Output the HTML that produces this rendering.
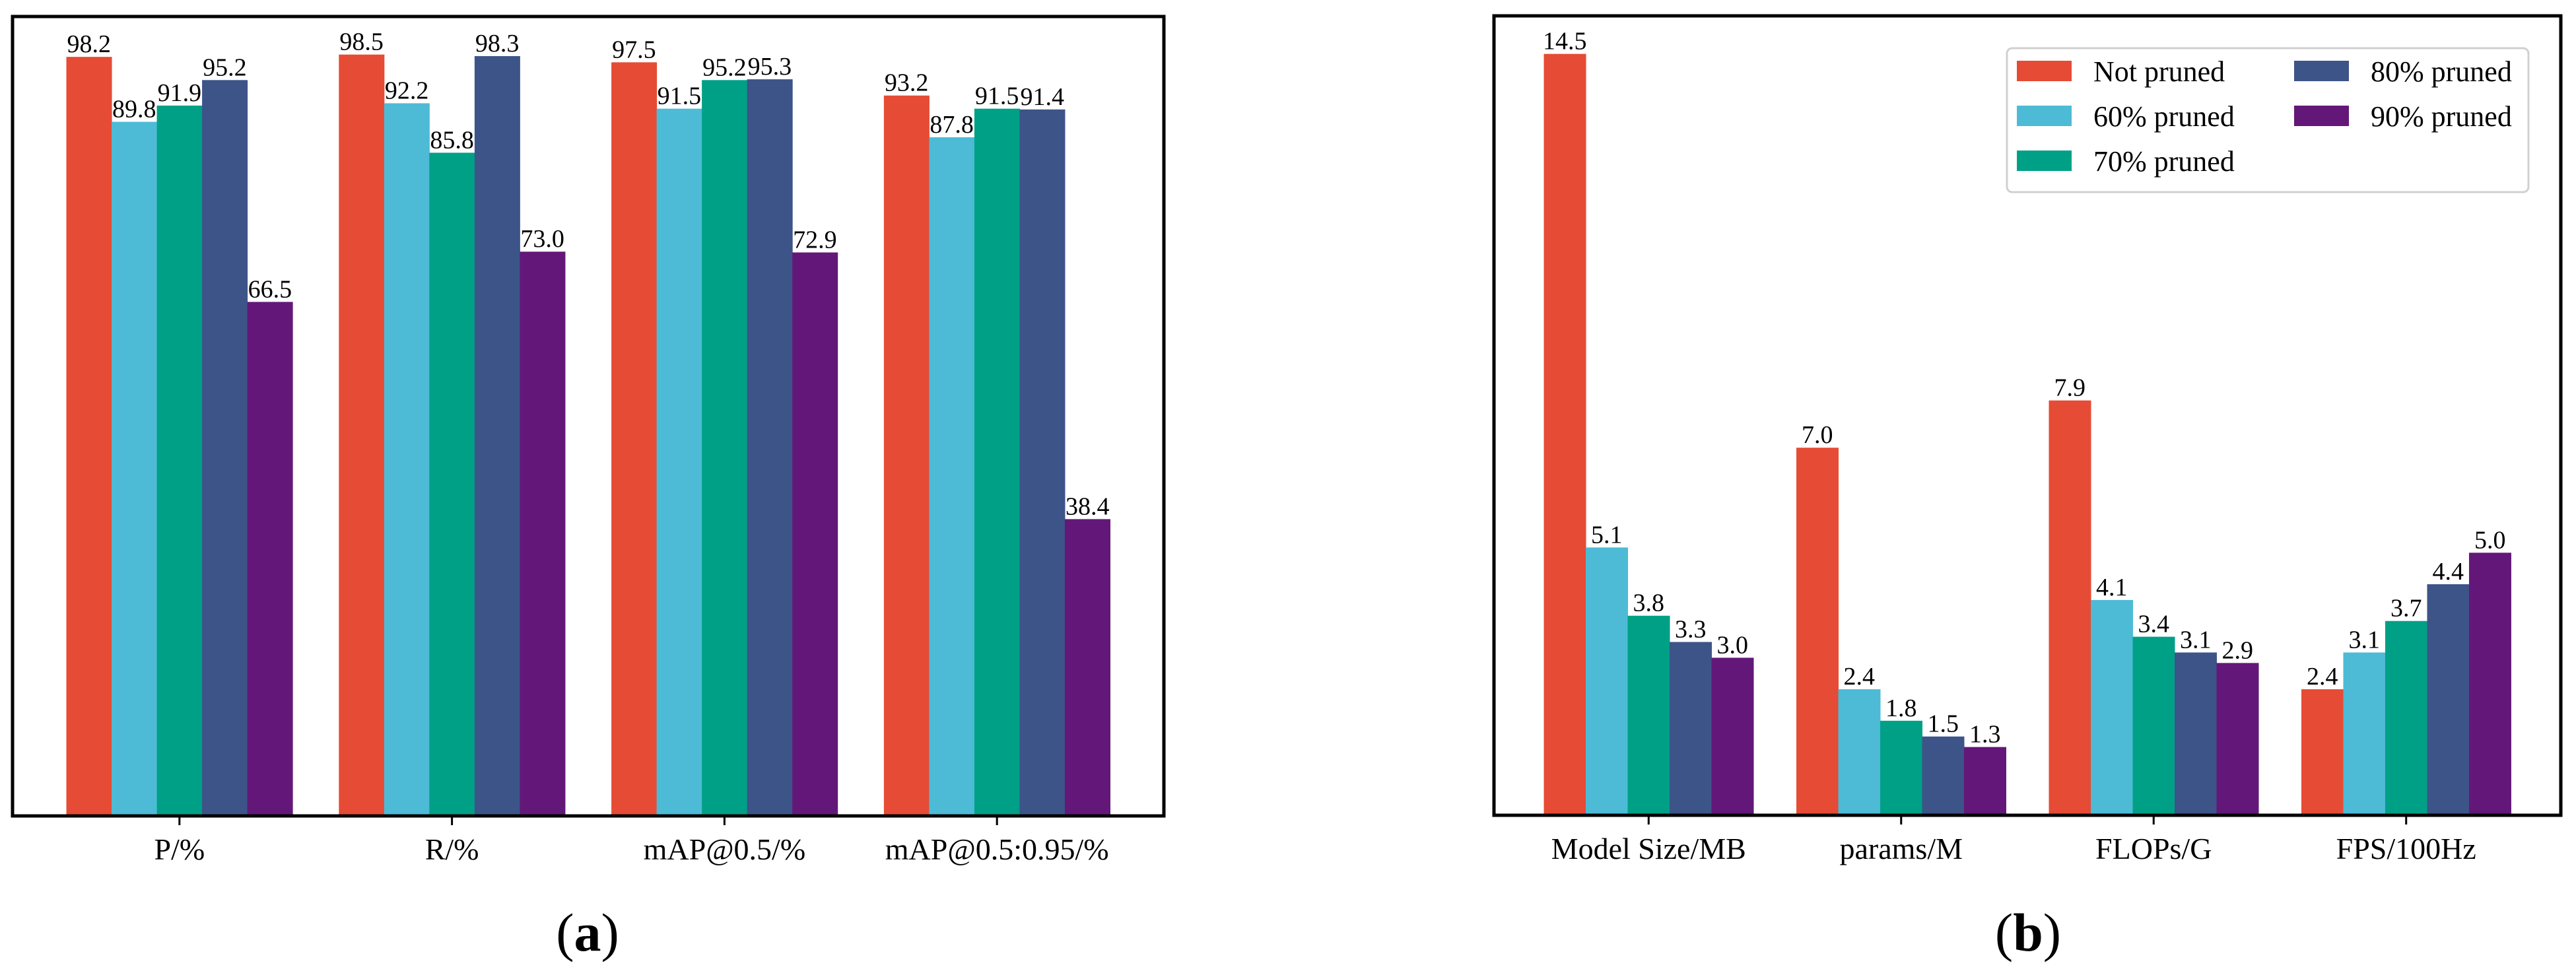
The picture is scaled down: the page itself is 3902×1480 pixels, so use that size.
<!DOCTYPE html>
<html><head><meta charset="utf-8"><style>
html,body{margin:0;padding:0;background:#fff;}
svg{display:block;font-family:"Liberation Serif",serif;}
</style></head><body>
<svg id="chart" width="3902" height="1480" viewBox="0 0 3902 1480" xmlns="http://www.w3.org/2000/svg">
<rect width="3902" height="1480" fill="#fff"/>
</svg>
<script>
const seriesNames = ["Not pruned","60% pruned","70% pruned","80% pruned","90% pruned"];
const seriesColors = ["#E64B35","#4DBBD5","#00A087","#3C5488","#631879"];
const catsA = ["P/%","R/%","mAP@0.5/%","mAP@0.5:0.95/%"];
const notPrunedA = [98.2,98.5,97.5,93.2];
const p60A = [89.8,92.2,91.5,87.8];
const p70A = [91.9,85.8,95.2,91.5];
const p80A = [95.2,98.3,95.3,91.4];
const p90A = [66.5,73.0,72.9,38.4];
const catsB = ["Model Size/MB","params/M","FLOPs/G","FPS/100Hz"];
const notPrunedB = [14.5,7.0,7.9,2.4];
const p60B = [5.1,2.4,4.1,3.1];
const p70B = [3.8,1.8,3.4,3.7];
const p80B = [3.3,1.5,3.1,4.4];
const p90B = [3.0,1.3,2.9,5.0];

const NS="http://www.w3.org/2000/svg";
const svg=document.getElementById('chart');
function mk(tag,attrs,parent){const e=document.createElementNS(NS,tag);for(const k in attrs)e.setAttribute(k,attrs[k]);(parent||svg).appendChild(e);return e;}

function panel(cfg){
  const g=mk('g',{});
  
  
  const L=cfg.left,R=cfg.right,T=cfg.top,B=cfg.bottom;
  const n=cfg.cats.length;
  const step=(R-L)/(n-1+2*0.6125);
  const xC=i=>L+step*0.6125+i*step;
  const all=[].concat(...cfg.series);
  const ymax=Math.max(...all)*1.05;
  const yS=v=>B-(v/ymax)*(B-T);
  const bw=step*0.166;
  cfg.series.forEach((vals,s)=>{
    vals.forEach((v,i)=>{
      const x=xC(i)-2.5*bw+s*bw;
      const r=mk('rect',{x:x,y:yS(v),width:bw+0.5,height:B-yS(v),fill:seriesColors[s]},g);
      
      
      const t=mk('text',{x:x+bw/2,y:yS(v)-7,'text-anchor':'middle','font-size':38,fill:'#000'},g);
      t.textContent=v.toFixed(1);
      
      
    });
  });
  cfg.cats.forEach((c,i)=>{
    mk('line',{x1:xC(i),x2:xC(i),y1:B,y2:B+14,stroke:'#000','stroke-width':3},g);
    const t=mk('text',{x:xC(i),y:B+66,'text-anchor':'middle','font-size':46,fill:'#000'},g);
    t.textContent=c;
    
    
  });
  const f=mk('rect',{x:L,y:T,width:R-L,height:B-T,fill:'none',stroke:'#000','stroke-width':5},g);
  
  
  const cap=mk('text',{x:cfg.capX,y:1440,'text-anchor':'middle','font-size':82,fill:'#000'},g);
  cap.innerHTML='(<tspan font-weight="bold">'+cfg.capLetter+'</tspan>)';
  
  
}
panel({name:'chart-a',key:'a',left:19,right:1763,top:25,bottom:1236,cats:catsA,series:[notPrunedA,p60A,p70A,p80A,p90A],capX:890,capLetter:'a'});
panel({name:'chart-b',key:'b',left:2263,right:3879,top:24,bottom:1235,cats:catsB,series:[notPrunedB,p60B,p70B,p80B,p90B],capX:3072,capLetter:'b'});

const lg=mk('g',{});


mk('rect',{x:3040,y:73,width:790,height:218,rx:8,fill:'#fff',stroke:'#d0d0d0','stroke-width':3},lg);
const pos=[[3055,92],[3055,160],[3055,228],[3475,92],[3475,160]];
seriesNames.forEach((nm,s)=>{
  const [px,py]=pos[s];
  const r=mk('rect',{x:px,y:py,width:83,height:31,fill:seriesColors[s]},lg);
  
  
  const t=mk('text',{x:px+116,y:py+31,'font-size':44,fill:'#000'},lg);
  t.textContent=nm;
  
  
});
</script>
</body></html>
